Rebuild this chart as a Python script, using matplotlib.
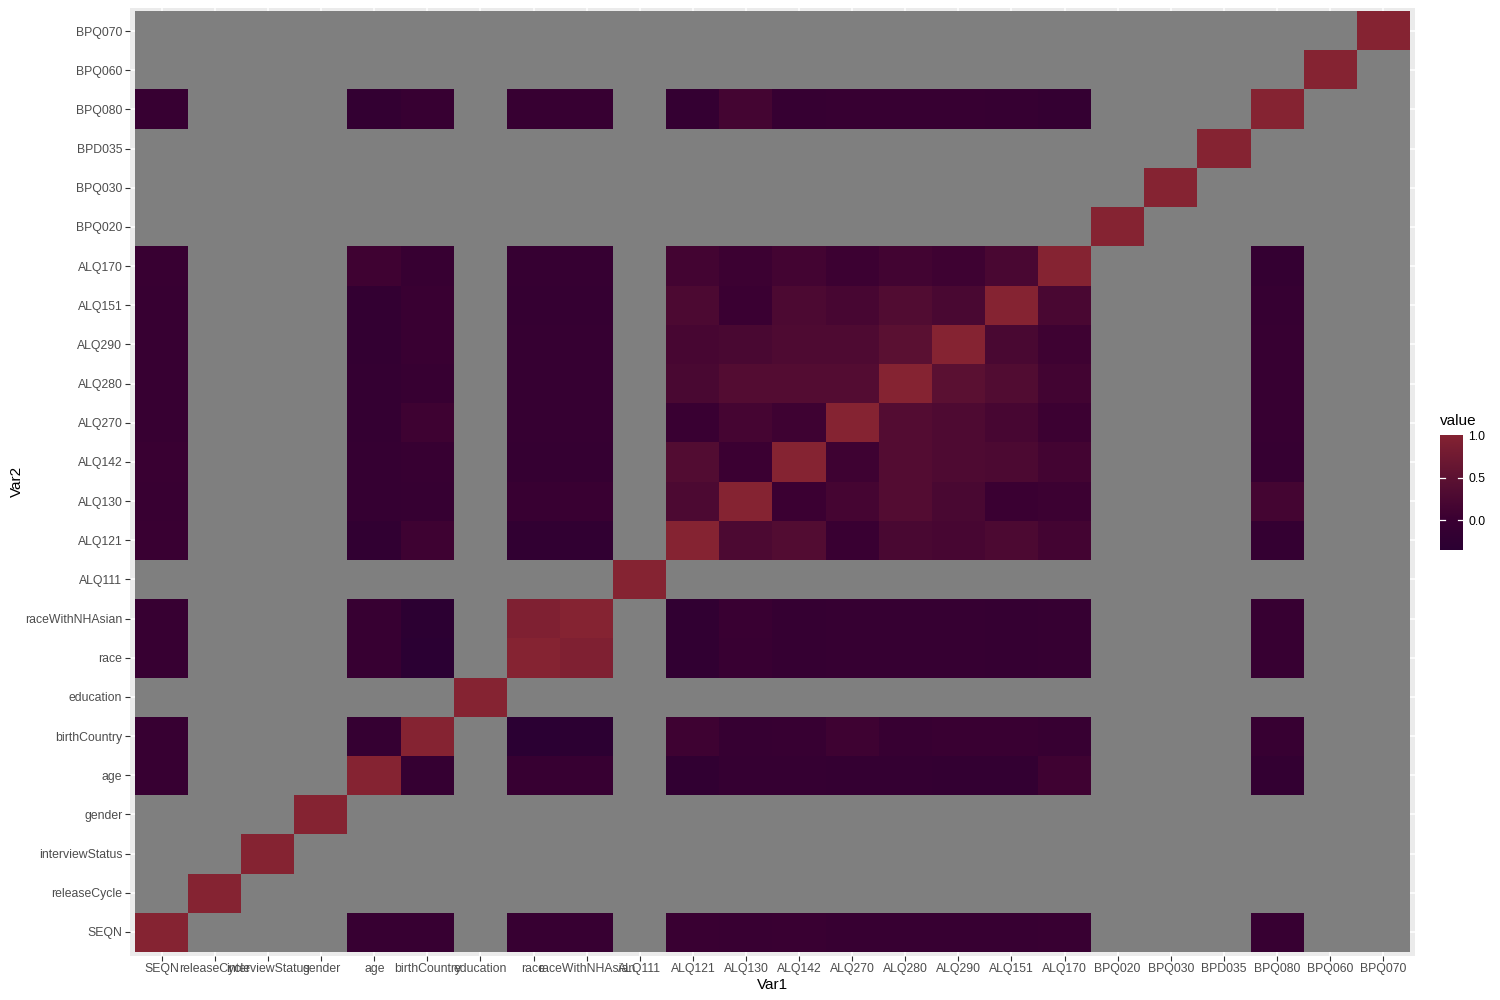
import numpy as np
import matplotlib
matplotlib.use("Agg")
import matplotlib.pyplot as plt
from matplotlib.colors import LinearSegmentedColormap, Normalize

plt.rcParams['font.family'] = ['Liberation Sans', 'DejaVu Sans']

variables = ["SEQN", "releaseCycle", "interviewStatus", "gender", "age", "birthCountry",
             "education", "race", "raceWithNHAsian", "ALQ111", "ALQ121", "ALQ130", "ALQ142",
             "ALQ270", "ALQ280", "ALQ290", "ALQ151", "ALQ170", "BPQ020", "BPQ030", "BPD035",
             "BPQ080", "BPQ060", "BPQ070"]

# only these have correlations with other variables, the rest are NA except the diagonal
paired = ["SEQN", "age", "birthCountry", "race", "raceWithNHAsian", "ALQ121", "ALQ130",
          "ALQ142", "ALQ270", "ALQ280", "ALQ290", "ALQ151", "ALQ170", "BPQ080"]

# lower triangle: correlation with each earlier variable of `paired`
low_SEQN = []
low_age = [-0.07]
low_birthCountry = [-0.07, -0.11]
low_race = [-0.07, -0.06, -0.35]
low_raceWithNHAsian = [-0.07, -0.06, -0.32, 0.93]
low_ALQ121 = [0.0, -0.20, 0.07, -0.19, -0.19]
low_ALQ130 = [-0.04, -0.10, -0.08, -0.04, -0.02, 0.27]
low_ALQ142 = [-0.01, -0.11, -0.06, -0.10, -0.10, 0.35, 0.02]
low_ALQ270 = [-0.05, -0.13, 0.06, -0.09, -0.09, -0.02, 0.16, 0.06]
low_ALQ280 = [-0.05, -0.13, -0.06, -0.09, -0.09, 0.23, 0.36, 0.36, 0.36]
low_ALQ290 = [-0.05, -0.15, -0.02, -0.09, -0.09, 0.19, 0.23, 0.29, 0.29, 0.46]
low_ALQ151 = [-0.05, -0.15, -0.02, -0.10, -0.10, 0.26, 0.01, 0.27, 0.19, 0.34, 0.23]
low_ALQ170 = [-0.04, 0.08, -0.06, -0.08, -0.08, 0.14, 0.04, 0.14, 0.03, 0.12, 0.07, 0.22]
low_BPQ080 = [-0.06, -0.15, -0.06, -0.07, -0.07, -0.12, 0.15, -0.09, -0.07, -0.07, -0.06,
              -0.08, -0.12]

lows = [low_SEQN, low_age, low_birthCountry, low_race, low_raceWithNHAsian, low_ALQ121,
        low_ALQ130, low_ALQ142, low_ALQ270, low_ALQ280, low_ALQ290, low_ALQ151, low_ALQ170,
        low_BPQ080]

n = len(variables)
M = np.full((n, n), np.nan)
for k in range(n):
    M[k, k] = 1.0
for a, row in zip(paired, lows):
    i = variables.index(a)
    for b, v in zip(paired, row):
        j = variables.index(b)
        M[i, j] = v
        M[j, i] = v

vmin, vmax = np.nanmin(M), 1.0
pos = lambda v: (v - vmin) / (vmax - vmin)
cmap = LinearSegmentedColormap.from_list(
    "corr", [(0.0, "#2b0033"), (pos(0.0), "#3a0032"), (pos(0.5), "#5d1232"), (1.0, "#852332")])
cmap.set_bad("#7f7f7f")
norm = Normalize(vmin=vmin, vmax=vmax)

fig = plt.figure(figsize=(15, 10), dpi=100)
ax = fig.add_axes([130 / 1500, 1 - 955.5 / 1000, 1285 / 1500, 948 / 1000])
ax.set_facecolor("#ebebeb")
ax.imshow(M, cmap=cmap, norm=norm, origin="lower", aspect="auto",
          interpolation="nearest", extent=(-0.5, n - 0.5, -0.5, n - 0.5), zorder=2)
ax.set_xlim(-0.6, n - 0.4)
ax.set_ylim(-0.6, n - 0.4)
ax.set_xticks(range(n))
ax.set_yticks(range(n))
ax.set_xticklabels(variables)
ax.set_yticklabels(variables)
ax.grid(color="white", linewidth=1.1, zorder=1)
ax.set_axisbelow(True)
for s in ax.spines.values():
    s.set_visible(False)
ax.tick_params(length=3.5, width=0.8, color="#333333", labelcolor="#4d4d4d",
               labelsize=8.8, pad=2)
ax.set_xlabel("Var1", fontsize=11, labelpad=2)
ax.set_ylabel("Var2", fontsize=11, labelpad=1)

# colour bar legend
cax = fig.add_axes([1440 / 1500, 1 - 550 / 1000, 23 / 1500, 115 / 1000])
grad = np.linspace(vmin, vmax, 300).reshape(-1, 1)
cax.imshow(grad, cmap=cmap, norm=norm, origin="lower", aspect="auto",
           extent=(0, 1, vmin, vmax))
cax.set_xlim(0, 1)
cax.set_ylim(vmin, vmax)
for s in cax.spines.values():
    s.set_visible(False)
cax.set_xticks([])
cax.yaxis.tick_right()
cax.set_yticks([0.0, 0.5, 1.0])
cax.set_yticklabels(["0.0", "0.5", "1.0"])
cax.tick_params(length=0, pad=4, labelsize=8.8)
for t in [0.0, 0.5]:
    cax.plot([0, 0.2], [t, t], color="white", lw=0.9)
    cax.plot([0.8, 1], [t, t], color="white", lw=0.9)
fig.text(1440 / 1500, 1 - 421 / 1000, "value", fontsize=11, va="center", ha="left")

fig.savefig("out.png", dpi=100)
